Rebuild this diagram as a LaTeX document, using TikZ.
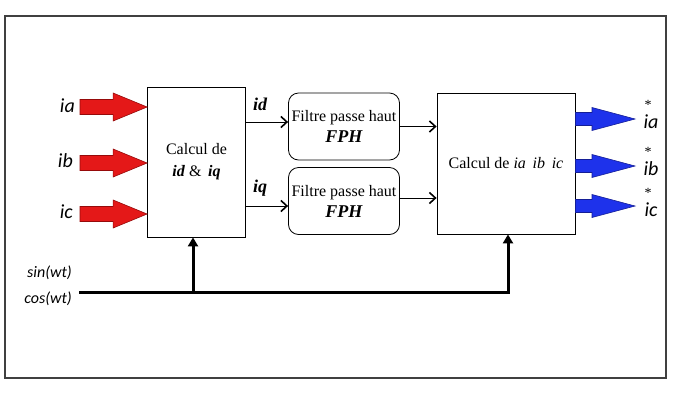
\documentclass[tikz,border=0pt]{standalone}
\usepackage{fontspec}
\setmainfont{Liberation Serif}
\newfontfamily\labfont{Carlito}
\usetikzlibrary{arrows.meta,calc}
\newcommand\fatarrow[6]{% style, tail, tip, shaft half, head half, head length
  \draw[#1] ($(#2)+(0,-#4)$) -- ($(#3)+(-#6,-#4)$) -- ($(#3)+(-#6,-#5)$) -- (#3)
    -- ($(#3)+(-#6,#5)$) -- ($(#3)+(-#6,#4)$) -- ($(#2)+(0,#4)$) -- cycle;}
\begin{document}
\begin{tikzpicture}[x=1pt,y=-1pt,
  blk/.style={draw, line width=0.8pt, align=center, font=\fontsize{16}{20}\selectfont},
  flt/.style={draw, rounded corners=10pt, line width=0.8pt, align=center,
    minimum width=111pt, minimum height=67pt, inner sep=1pt, font=\fontsize{16}{21}\selectfont},
  lab/.style={font=\labfont\itshape\fontsize{20}{22}\selectfont, inner sep=0pt},
  olab/.style={font=\labfont\itshape\fontsize{20}{22}\selectfont, inner sep=0pt},
  star/.style={font=\fontsize{14}{14}\selectfont, inner sep=0pt, anchor=south},
  sc/.style={font=\labfont\itshape\fontsize{16}{18}\selectfont, inner sep=0pt},
  bl/.style={font=\bfseries\itshape\fontsize{18}{18}\selectfont, inner sep=0pt},
  sig/.style={line width=1pt, -{Straight Barb[length=6pt,width=11pt,line width=1.6pt]}},
  bus/.style={line width=3pt},
  up/.style={line width=3pt, -{Triangle[length=9pt,width=10pt]}},
  redarr/.style={fill={rgb,255:red,228;green,24;blue,24}, draw={rgb,255:red,150;green,10;blue,10}, line width=0.6pt},
  bluearr/.style={fill={rgb,255:red,30;green,50;blue,235}, draw={rgb,255:red,20;green,30;blue,150}, line width=0.6pt}]
\useasboundingbox (0,0) rectangle (673,408);
\draw[line width=1.3pt, black!75] (5,16) rectangle (666,378);

% blocks
\node[blk, minimum width=98pt, minimum height=150pt] (c1) at (196.5,162)
  {Calcul de\\[2pt]\textbf{\textit{id}} \& \,\textbf{\textit{iq}}};
\node[flt] (f1) at (344,126.5) {Filtre passe haut\\{\fontsize{18}{18}\selectfont\textbf{\textit{FPH}}}};
\node[flt] (f2) at (344,201) {Filtre passe haut\\{\fontsize{18}{18}\selectfont\textbf{\textit{FPH}}}};
\node[blk, minimum width=138pt, minimum height=141pt] (c3) at (506,163.5)
  {Calcul de \textit{ia\,\ ib\,\ ic}};

% input labels
\node[lab, anchor=east] (lia) at (75,106) {ia};
\node[lab, anchor=east] (lib) at (73,161) {ib};
\node[lab, anchor=east] (lic) at (73,212) {ic};
\coordinate (ta) at (80,107);
\coordinate (tb) at (80,163);
\coordinate (tc) at (80,214);
\fatarrow{redarr}{ta}{c1.west |- ta}{7.5}{14}{34}
\fatarrow{redarr}{tb}{c1.west |- tb}{7.5}{14}{34}
\fatarrow{redarr}{tc}{c1.west |- tc}{7.5}{14}{34}

% id / iq
\node[bl] (lid) at (260,104) {id};
\node[bl] (liq) at (260,188) {iq};
\coordinate (yd) at (0,122);
\coordinate (yq) at (0,206);
\draw[sig] (c1.east |- yd) -- (f1.west |- yd);
\draw[sig] (c1.east |- yq) -- (f2.west |- yq);
\draw[sig] (f1.east) -- (c3.west |- f1.east);
\draw[sig] (f2.east |- 0,198) -- (c3.west |- 0,198);

% outputs
\coordinate (oa) at (635,119);
\coordinate (ob) at (635,166);
\coordinate (oc) at (635,206);
\fatarrow{bluearr}{c3.east |- oa}{oa}{6.5}{11.5}{43}
\fatarrow{bluearr}{c3.east |- ob}{ob}{6.5}{11.5}{43}
\fatarrow{bluearr}{c3.east |- oc}{oc}{6.5}{11.5}{43}
\node[olab] (loa) at (651,122) {ia};
\node[olab] (lob) at (651,169) {ib};
\node[olab] (loc) at (651,210) {ic};
\node[star] (sa) at ([xshift=-3pt,yshift=5pt]loa.north) {*};
\node[star] (sb) at ([xshift=-3pt,yshift=5pt]lob.north) {*};
\node[star] (sc) at ([xshift=-3pt,yshift=5pt]loc.north) {*};

% sin/cos bus
\node[sc, anchor=east] (lsin) at (72,273) {sin(wt)};
\node[sc, anchor=east] (lcos) at (72,299) {cos(wt)};
\coordinate (b0) at (79,292);
\coordinate (b1) at (510,292);
\draw[bus] (b0) -- (b1);
\draw[up] (193,292) -- (c1.south -| 193,0);
\draw[up] (508,292) -- (c3.south -| 508,0);
\end{tikzpicture}
\end{document}
